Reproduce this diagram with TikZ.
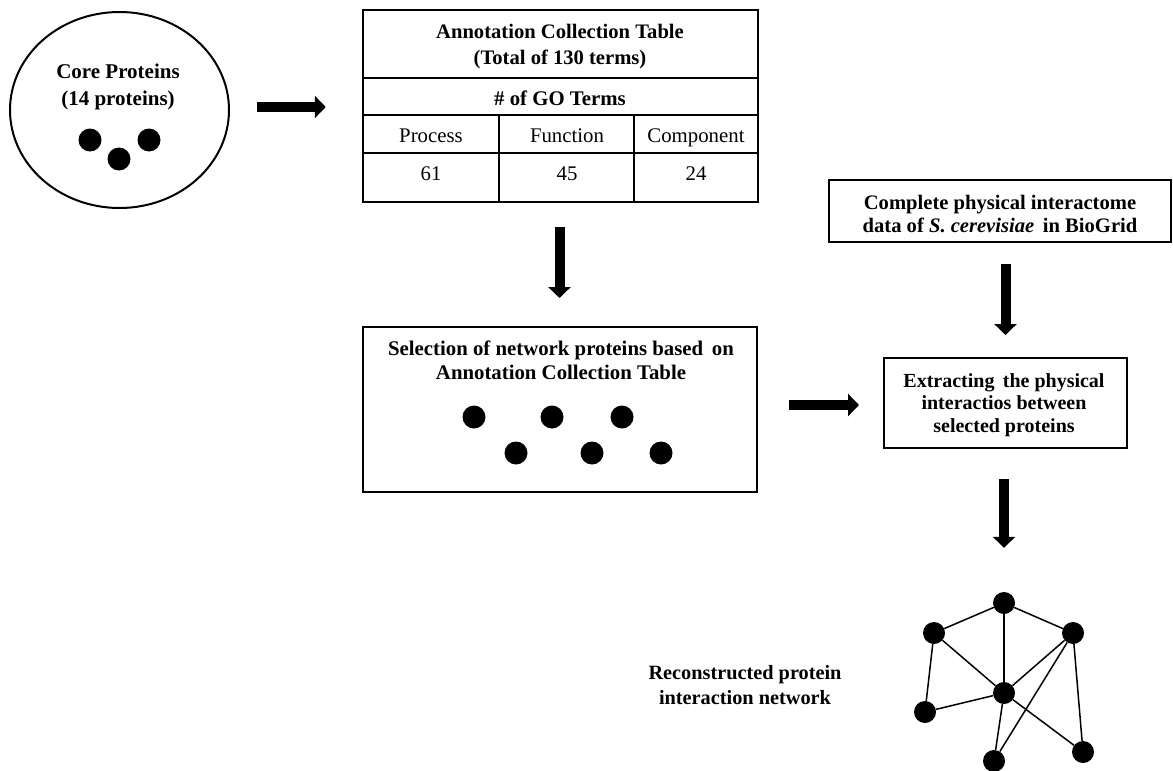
\documentclass[tikz,border=0pt]{standalone}
\usepackage{fontspec}
\setmainfont{Liberation Serif}
\usetikzlibrary{arrows.meta,shapes.geometric}
\tikzset{
  txt/.style={font=\fontsize{20.8}{24}\selectfont\bfseries, align=center, inner sep=0pt},
  rtxt/.style={font=\fontsize{20.8}{24}\selectfont, inner sep=0pt, text height=14pt, text depth=4pt},
  boxnode/.style={draw, line width=2pt, inner sep=0pt},
  bigarrow/.style={line width=10pt, -{Triangle[length=11pt,width=22pt]}},
  dot/.style={circle, fill=black, minimum size=23pt, inner sep=0pt},
  netedge/.style={line width=1.5pt},
  tline/.style={line width=1.5pt}
}
\begin{document}
\begin{tikzpicture}[x=1pt,y=-1pt]
\useasboundingbox (0,0) rectangle (1173,771);
% Core proteins ellipse
\node[ellipse, draw, line width=2pt, minimum width=219pt, minimum height=196pt, inner sep=0pt] (core) at (119.5,110) {};
\node[txt, font=\fontsize{21}{27}\selectfont\bfseries] (coretext) at (118,87) {Core Proteins\\(14 proteins)};
\node[dot] (c1) at (90,140) {};
\node[dot] (c2) at (119,159) {};
\node[dot] (c3) at (149,140) {};
% Annotation table
\node[boxnode, line width=2.5pt, minimum width=395pt, minimum height=192pt] (table) at (560.5,106) {};
\draw[tline] (table.west |- 0,78) -- (table.east |- 0,78);
\draw[tline] (table.west |- 0,115) -- (table.east |- 0,115);
\draw[tline] (table.west |- 0,153) -- (table.east |- 0,153);
\draw[tline] (499,115) -- (499,0 |- table.south);
\draw[tline] (634,115) -- (634,0 |- table.south);
\node[txt, font=\fontsize{20.6}{26}\selectfont\bfseries] (ttitle) at (560,47) {Annotation Collection Table\\(Total of 130 terms)};
\node[txt, text height=14pt, text depth=4pt] (tgo) at (560,100) {\# of GO Terms};
\node[rtxt] (tproc) at (431,137) {Process};
\node[rtxt] (tfunc) at (567,137) {Function};
\node[rtxt] (tcomp) at (696,137) {Component};
\node[rtxt] (v1) at (431,175) {61};
\node[rtxt] (v2) at (567,175) {45};
\node[rtxt] (v3) at (696,175) {24};
% Selection box
\node[boxnode, minimum width=394pt, minimum height=165pt] (sel) at (560,409.5) {};
\node[txt] (seltext) at (561,360) {Selection of network proteins based\, on\\Annotation Collection Table};
\node[dot] (s1) at (474,417) {};
\node[dot] (s2) at (552,417) {};
\node[dot] (s3) at (622,417) {};
\node[dot] (s4) at (516,453) {};
\node[dot] (s5) at (592,453) {};
\node[dot] (s6) at (661,453) {};
% Complete box
\node[boxnode, minimum width=342pt, minimum height=62pt] (complete) at (999.5,211) {};
\node[txt, font=\fontsize{20.6}{23}\selectfont\bfseries] (comptext) at (1000,214) {Complete physical interactome\\data of \textit{S. cerevisiae}\, in BioGrid};
% Extracting box
\node[boxnode, minimum width=243pt, minimum height=90pt] (extract) at (1005.5,403) {};
\node[txt, font=\fontsize{20}{22.5}\selectfont\bfseries] (exttext) at (1004,405) {Extracting\, the physical\\interactios between\\selected proteins};
% Network
\node[dot, minimum size=22pt] (n1) at (1004,603) {};
\node[dot, minimum size=22pt] (n2) at (934,633) {};
\node[dot, minimum size=22pt] (n3) at (1073,633) {};
\node[dot, minimum size=22pt] (n4) at (1004,693) {};
\node[dot, minimum size=22pt] (n5) at (925,712) {};
\node[dot, minimum size=22pt] (n6) at (994,761) {};
\node[dot, minimum size=22pt] (n7) at (1083,752) {};
\draw[netedge] (n1) -- (n2);
\draw[netedge] (n1) -- (n3);
\draw[netedge] (n1) -- (n4);
\draw[netedge] (n2) -- (n4);
\draw[netedge] (n2) -- (n5);
\draw[netedge] (n5) -- (n4);
\draw[netedge] (n3) -- (n4);
\draw[netedge] (n3) -- (n6);
\draw[netedge] (n3) -- (n7);
\draw[netedge] (n4) -- (n6);
\draw[netedge] (n4) -- (n7);
\node[txt, font=\fontsize{20.3}{24.5}\selectfont\bfseries] (nettext) at (745,685) {Reconstructed protein\\interaction network};
% Arrows
\draw[bigarrow, shorten <=27pt, shorten >=36pt] (core.east |- 0,107) -- (table.west |- 0,107);
\draw[bigarrow, shorten <=24pt, shorten >=28pt] (559.5,0 |- table.south) -- (559.5,0 |- sel.north);
\draw[bigarrow, shorten <=21pt, shorten >=22pt] (extract.north |- complete.south) -- (extract.north);
\draw[bigarrow, shorten <=31pt, shorten >=24pt] (sel.east |- 0,405) -- (extract.west |- 0,405);
\draw[bigarrow, shorten <=30pt, shorten >=44pt] (n1 |- extract.south) -- (n1.north);
\end{tikzpicture}
\end{document}
